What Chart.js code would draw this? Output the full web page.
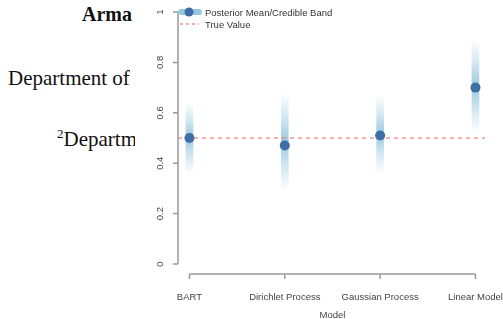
<!DOCTYPE html>
<html>
<head>
<meta charset="utf-8">
<script src="https://cdn.jsdelivr.net/npm/chart.js@4/dist/chart.umd.min.js"></script>
<style>
  html, body { margin: 0; padding: 0; background: #fff; }
  #wrap { position: relative; width: 503px; height: 319px; overflow: hidden; }
  #grafico { position: absolute; left: 0; top: 0; }
  .txt { position: absolute; font-family: "Liberation Serif", "DejaVu Serif", serif; font-size: 21px; color: #111; white-space: nowrap; }
  #clip { position: absolute; left: 0; top: 122px; width: 135px; height: 36px; overflow: hidden; }
</style>
</head>
<body>
<div id="wrap">
  <div class="txt" style="left:82px; top:3px; font-weight:bold; font-size:20px;">Arma</div>
  <div class="txt" style="left:8px; top:66px;">Department of</div>
  <div id="clip"><div class="txt" style="left:57px; top:4px;"><sup style="font-size:13px;">2</sup>Department</div></div>
  <canvas id="grafico" width="503" height="319"></canvas>
</div>
<script>
// dados do gr치fico
const modelos = ["BART", "Dirichlet Process", "Gaussian Process", "Linear Model"];
const medias = [0.50, 0.47, 0.51, 0.70];
const inferior = [0.36, 0.29, 0.36, 0.52];
const superior = [0.64, 0.68, 0.67, 0.89];
const valorVerdadeiro = 0.5;
const ticksY = [0, 0.2, 0.4, 0.6, 0.8, 1];
const rotuloEixoX = "Model";
const legendaTextos = ["Posterior Mean/Credible Band", "True Value"];

const corPonto = "#3d6fa6";
const corBanda = "143,196,220";
const corVerdade = "rgba(240,120,120,0.8)";
const fonteEixo = "9.5px 'Liberation Sans', Arial, sans-serif";

function gradienteBanda(ctx) {
  const chart = ctx.chart;
  const y = chart.scales.y;
  if (!y || !chart.chartArea) return "rgba(" + corBanda + ",0.7)";
  const i = ctx.dataIndex;
  const topo = y.getPixelForValue(superior[i]);
  const base = y.getPixelForValue(inferior[i]);
  const g = chart.ctx.createLinearGradient(0, topo, 0, base);
  g.addColorStop(0, "rgba(" + corBanda + ",0)");
  g.addColorStop(0.25, "rgba(" + corBanda + ",0.4)");
  g.addColorStop(0.5, "rgba(" + corBanda + ",0.9)");
  g.addColorStop(0.75, "rgba(" + corBanda + ",0.4)");
  g.addColorStop(1, "rgba(" + corBanda + ",0)");
  return g;
}

// eixos no estilo R + legenda
const eixosPlugin = {
  id: "eixos",
  afterDatasetDraw(chart, args) {
    if (args.index !== 0) return;
    const { ctx, chartArea } = chart;
    const y = chart.scales.y;
    const py = y.getPixelForValue(valorVerdadeiro);
    ctx.save();
    ctx.strokeStyle = corVerdade;
    ctx.lineWidth = 1.5;
    ctx.setLineDash([4, 4]);
    ctx.beginPath();
    ctx.moveTo(chartArea.left, py);
    ctx.lineTo(chartArea.right, py);
    ctx.stroke();
    ctx.restore();
  },
  afterDraw(chart) {
    const { ctx, chartArea } = chart;
    const x = chart.scales.x;
    const y = chart.scales.y;
    ctx.save();
    ctx.strokeStyle = "#9a9a9a";
    ctx.lineWidth = 1.5;
    ctx.fillStyle = "#444";
    ctx.font = fonteEixo;

    // eixo y
    const ax = chartArea.left;
    ctx.beginPath();
    ctx.moveTo(ax, y.getPixelForValue(ticksY[0]));
    ctx.lineTo(ax, y.getPixelForValue(ticksY[ticksY.length - 1]));
    ticksY.forEach(v => {
      const p = y.getPixelForValue(v);
      ctx.moveTo(ax, p);
      ctx.lineTo(ax - 5, p);
    });
    ctx.stroke();
    ticksY.forEach(v => {
      const p = y.getPixelForValue(v);
      ctx.save();
      ctx.translate(ax - 18, p);
      ctx.rotate(-Math.PI / 2);
      ctx.textAlign = "center";
      ctx.textBaseline = "middle";
      ctx.fillText(String(v), 0, 0);
      ctx.restore();
    });

    // eixo x
    const ay = chartArea.bottom + 10;
    ctx.beginPath();
    ctx.moveTo(x.getPixelForValue(0), ay);
    ctx.lineTo(x.getPixelForValue(modelos.length - 1), ay);
    modelos.forEach((m, i) => {
      const p = x.getPixelForValue(i);
      ctx.moveTo(p, ay);
      ctx.lineTo(p, ay + 5);
    });
    ctx.stroke();
    ctx.textAlign = "center";
    ctx.textBaseline = "middle";
    modelos.forEach((m, i) => {
      ctx.fillText(m, x.getPixelForValue(i), ay + 23);
    });
    const meio = (x.getPixelForValue(0) + x.getPixelForValue(modelos.length - 1)) / 2;
    ctx.fillText(rotuloEixoX, meio, ay + 41);

    // legenda
    const lx = chartArea.left;
    const ly = y.getPixelForValue(1);
    ctx.lineCap = "round";
    ctx.strokeStyle = "rgba(" + corBanda + ",0.95)";
    ctx.lineWidth = 6;
    ctx.beginPath();
    ctx.moveTo(lx + 3, ly);
    ctx.lineTo(lx + 21, ly);
    ctx.stroke();
    ctx.fillStyle = corPonto;
    ctx.beginPath();
    ctx.arc(lx + 11, ly, 4.5, 0, Math.PI * 2);
    ctx.fill();
    ctx.lineCap = "butt";
    ctx.strokeStyle = corVerdade;
    ctx.lineWidth = 1.5;
    ctx.setLineDash([3, 3]);
    ctx.beginPath();
    ctx.moveTo(lx + 2, ly + 12);
    ctx.lineTo(lx + 21, ly + 12);
    ctx.stroke();
    ctx.setLineDash([]);
    ctx.fillStyle = "#333";
    ctx.textAlign = "left";
    ctx.fillText(legendaTextos[0], lx + 27, ly + 1);
    ctx.fillText(legendaTextos[1], lx + 27, ly + 13);
    ctx.restore();
  }
};

const ctx = document.getElementById("grafico").getContext("2d");
new Chart(ctx, {
  data: {
    datasets: [
      {
        type: "bar",
        data: modelos.map((m, i) => ({ x: i, y: [inferior[i], superior[i]] })),
        backgroundColor: gradienteBanda,
        borderWidth: 0,
        barThickness: 7,
        order: 2
      },
      {
        type: "scatter",
        data: modelos.map((m, i) => ({ x: i, y: medias[i] })),
        backgroundColor: corPonto,
        borderColor: corPonto,
        pointRadius: 5,
        borderWidth: 0,
        order: 0
      }
    ]
  },
  options: {
    responsive: false,
    animation: false,
    layout: { padding: { left: 178, right: 18, top: 12, bottom: 55 } },
    scales: {
      x: { type: "linear", min: -0.12, max: 3.1, display: false, offset: false },
      y: { type: "linear", min: 0, max: 1, display: false }
    },
    plugins: { legend: { display: false }, tooltip: { enabled: false } }
  },
  plugins: [eixosPlugin]
});
</script>
</body>
</html>
